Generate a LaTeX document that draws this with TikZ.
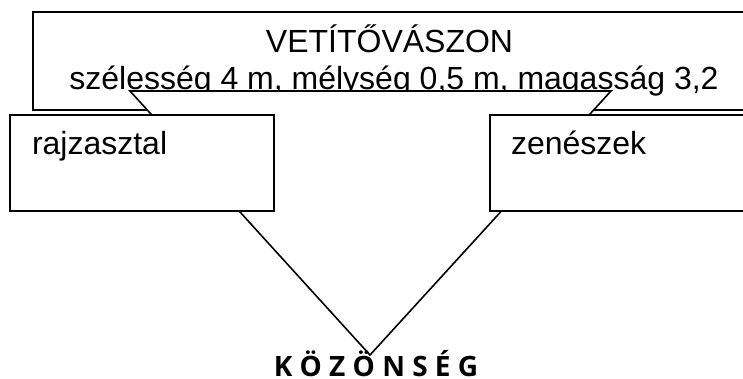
\documentclass[tikz,border=0pt]{standalone}
\usepackage{fontspec}
\setmainfont{Liberation Sans}
\newfontfamily\audfont{Open Sans}
\tikzset{
  x=1pt,y=-1pt,
  box/.style={draw=black,line width=2pt,fill=white,rectangle,anchor=north west,inner sep=0pt,outer sep=0pt},
  lbl/.style={inner sep=0pt,outer sep=0pt,anchor=base west,font=\fontsize{32}{32}\selectfont},
  ctr/.style={inner sep=0pt,outer sep=0pt,anchor=base,font=\fontsize{32}{32}\selectfont},
  ray/.style={draw=black,line width=1.6pt,fill=white,line join=miter}
}
\begin{document}
\begin{tikzpicture}
\useasboundingbox (0,0) rectangle (743,379);
\clip (0,0) rectangle (743,379);
\node[box,minimum width=730pt,minimum height=98pt] (screen) at (33,12) {};
\node[ctr] (title) at (389.5,53) {VETÍTŐVÁSZON};
\node[ctr] (dims) at (394,90) {szélesség 4 m, mélység 0,5 m, magasság 3,2};
\coordinate (apex) at (370,355);
\coordinate (sl) at (130,91);
\coordinate (sr) at (611,91);
\filldraw[ray] (sl) -- (sr) -- (apex) -- cycle;
\node[box,minimum width=264pt,minimum height=96pt] (table) at (10,115) {};
\node[box,minimum width=280pt,minimum height=96pt] (music) at (490,115) {};
\node[lbl] (tablelbl) at (32,155) {rajzasztal};
\node[lbl] (musiclbl) at (511,155) {zenészek};
\node[inner sep=0pt,outer sep=0pt,anchor=base] (aud) at (376,376.5) {\audfont\bfseries\fontsize{28}{28}\selectfont K Ö Z Ö N S É G};
\end{tikzpicture}
\end{document}
